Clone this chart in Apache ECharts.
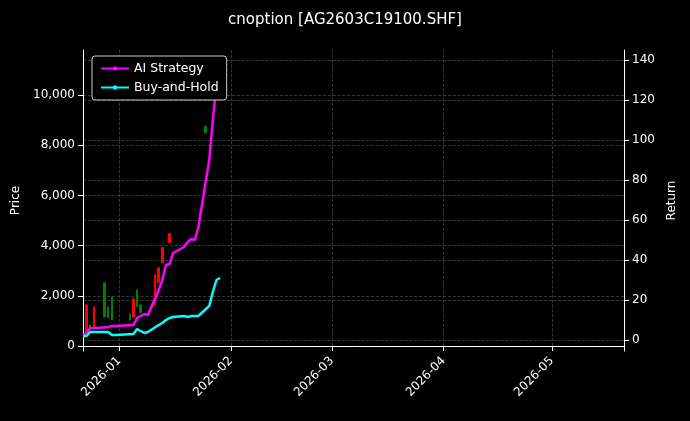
<!DOCTYPE html>
<html>
<head>
<meta charset="UTF-8">
<script src="https://cdn.jsdelivr.net/npm/echarts@6/dist/echarts.min.js"></script>
</head>
<body style="margin:0;background:#000">
<div id="c" style="width:690px;height:421px"></div>
<script>
// candles: [date, open, close, low, high]
const candleData = [
  ['2025-12-23', 560, 1640, 560, 1640],
  ['2025-12-24', 840, 640, 640, 840],
  ['2025-12-25', 760, 1560, 760, 1560],
  ['2025-12-28', 2520, 1160, 1160, 2520],
  ['2025-12-29', 1560, 1120, 1120, 1560],
  ['2025-12-30', 1960, 1040, 1040, 1960],
  ['2026-01-04', 1280, 1040, 1040, 1280],
  ['2026-01-05', 1160, 1880, 1160, 1880],
  ['2026-01-06', 2240, 1560, 1560, 2240],
  ['2026-01-07', 1640, 1320, 1320, 1640],
  ['2026-01-11', 1640, 2840, 1640, 2840],
  ['2026-01-12', 2520, 3120, 2520, 3120],
  ['2026-01-13', 3320, 3920, 3320, 3920],
  ['2026-01-15', 4120, 4480, 4120, 4480],
  ['2026-01-25', 8760, 8500, 8500, 8760],
  ['2026-01-28', 11100, 10900, 10900, 11100]
];
const lineDates = ['2025-12-22','2025-12-23','2025-12-24','2025-12-25','2025-12-26','2025-12-29','2025-12-30','2025-12-31',
  '2026-01-05','2026-01-06','2026-01-07','2026-01-08','2026-01-09','2026-01-12','2026-01-13','2026-01-14','2026-01-15','2026-01-16',
  '2026-01-19','2026-01-20','2026-01-21','2026-01-22','2026-01-23','2026-01-26','2026-01-27','2026-01-28','2026-01-29'];
const aiReturn = [2.5,3.5,6,6,6,6.5,7,7,7.5,11,12,13,12.5,25,30,37.5,38,43.5,46.5,49,50.5,50,56.5,90,110,128,139];
const bhReturn = [2,2,4,4,4,4,2.5,2.5,3,5.5,4.5,3.5,4,7.5,8.5,10,11,11.5,12,11.5,12,12,12,17,24,30,31];
const priceTicks = [0,2000,4000,6000,8000,10000];
const returnTicks = [0,20,40,60,80,100,120,140];
const monthTicks = ['2026-01-01','2026-02-01','2026-03-01','2026-04-01','2026-05-01'];

const ts = d => Date.parse(d + 'T00:00:00Z');
const monthTs = monthTicks.map(ts);
const fontFam = 'DejaVu Sans';
const grid = {type:'dashed', color:'#444', width:0.8};
const chart = echarts.init(document.getElementById('c'));
chart.setOption({
  backgroundColor:'#000',
  animation:false,
  textStyle:{fontFamily:fontFam},
  title:{text:'cnoption [AG2603C19100.SHF]', left:'center', top:8, textStyle:{color:'#fff', fontSize:15, fontWeight:'normal', fontFamily:fontFam}},
  legend:{left:92, top:56, orient:'vertical', itemGap:6, itemWidth:28, itemHeight:3, backgroundColor:'#000', borderColor:'#ccc', borderWidth:1, borderRadius:3, padding:[6,8],
    textStyle:{color:'#fff', fontSize:12.5}, data:['AI Strategy','Buy-and-Hold']},
  grid:{left:83, right:66, top:50, bottom:70},
  xAxis:{type:'value', min:ts('2025-12-22'), max:ts('2026-05-21'),
    axisLine:{lineStyle:{color:'#fff'}}, axisTick:{customValues:monthTs, lineStyle:{color:'#fff'}},
    axisLabel:{customValues:monthTs, color:'#fff', fontSize:12, rotate:45, formatter:v=>{const d=new Date(v);return d.getUTCFullYear()+'-'+String(d.getUTCMonth()+1).padStart(2,'0');}},
    splitLine:{show:true, lineStyle:grid}},
  yAxis:[
    {type:'value', name:'Price', nameLocation:'middle', nameGap:58, nameTextStyle:{color:'#fff', fontSize:12}, min:-200, max:11800, position:'left',
      axisLine:{show:true, lineStyle:{color:'#fff'}}, axisTick:{show:true, customValues:priceTicks},
      axisLabel:{customValues:priceTicks, color:'#fff', fontSize:12}, splitLine:{show:true, lineStyle:grid}},
    {type:'value', name:'Return', nameLocation:'middle', nameGap:38, nameTextStyle:{color:'#fff', fontSize:12}, min:-5.5, max:145, position:'right',
      axisLine:{show:true, lineStyle:{color:'#fff'}}, axisTick:{show:true, customValues:returnTicks},
      axisLabel:{customValues:returnTicks, color:'#fff', fontSize:12}, splitLine:{show:true, lineStyle:grid}}
  ],
  series:[
    {type:'candlestick', yAxisIndex:0, barWidth:2, data:candleData.map(d=>[ts(d[0]),d[1],d[2],d[3],d[4]]),
      itemStyle:{color:'#ff0000', color0:'#008000', borderColor:'#ff0000', borderColor0:'#008000', borderWidth:1}},
    {name:'AI Strategy', type:'line', yAxisIndex:1, showSymbol:false, data:lineDates.map((d,i)=>[ts(d), aiReturn[i]]),
      lineStyle:{color:'#ff00ff', width:2.5}, itemStyle:{color:'#ff00ff'}},
    {name:'Buy-and-Hold', type:'line', yAxisIndex:1, showSymbol:false, data:lineDates.map((d,i)=>[ts(d), bhReturn[i]]),
      lineStyle:{color:'#00ffff', width:2.5}, itemStyle:{color:'#00ffff'}}
  ]
});
</script>
</body>
</html>
